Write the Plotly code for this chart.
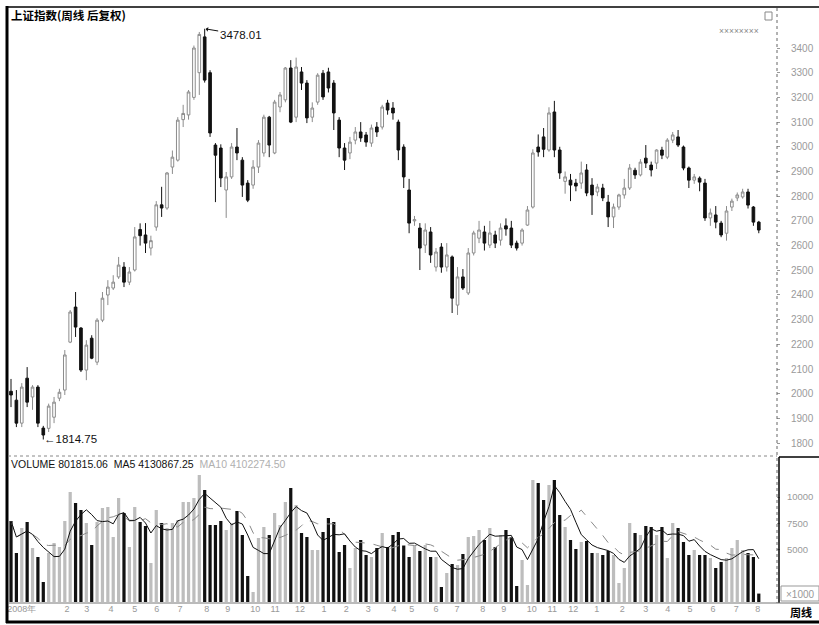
import plotly.graph_objects as go
import pandas as pd

# ---------------- data (weekly, 上证指数 后复权) ----------------
open_ = [2010,1974,1881,2063,1987,2027,1861,1860,1905,1982,
         2015,2209,2351,2266,2096,2225,2128,2298,2400,2428,
         2473,2513,2452,2501,2665,2643,2590,2675,2765,2752,
         2918,2946,3110,3129,3200,3300,3445,3300,3007,2995,
         2825,2878,2999,2946,2853,2845,2918,2975,3120,2975,
         3161,3190,3319,3120,3303,3258,3120,3181,3298,3303,
         3258,3108,2995,2975,3027,3060,3048,3015,3080,3080,
         3177,3157,3100,2999,2825,2700,2671,2602,2655,2513,
         2594,2513,2554,2359,2473,2408,2570,2630,2655,2602,
         2643,2622,2680,2671,2610,2610,2683,2756,2999,3040,
         2987,3141,2987,2860,2865,2853,2853,2906,2845,2817,
         2833,2776,2716,2756,2805,2833,2905,2886,2954,2926,
         2934,2987,2958,3027,3040,2999,2914,2865,2873,2853,
         2712,2724,2691,2650,2756,2793,2797,2817,2756,2695]
high = [2060,2015,2043,2108,2035,2035,1870,1960,1987,2020,
        2177,2339,2412,2270,2217,2237,2306,2412,2460,2480,
        2554,2533,2513,2675,2690,2691,2640,2780,2838,2898,
        2985,3120,3170,3230,3410,3465,3478.01,3310,3015,3010,
        2898,3015,3076,2958,2865,2946,3027,3130,3125,3190,
        3222,3323,3351,3361,3323,3270,3180,3298,3311,3320,
        3270,3120,3015,3040,3080,3100,3060,3090,3100,3170,
        3190,3181,3110,3010,2870,2720,2691,2690,2675,2590,
        2610,2610,2560,2513,2505,2590,2660,2700,2680,2700,
        2660,2690,2710,2700,2620,2670,2760,2990,3050,3076,
        3160,3186,3000,2900,2890,2870,2940,2930,2873,2850,
        2850,2805,2770,2810,2870,2930,2915,2950,3007,2940,
        2990,3000,3035,3060,3068,3005,2920,2890,2880,2870,
        2750,2760,2700,2760,2790,2815,2830,2830,2760,2700]
low = [1946,1865,1865,1946,1935,1865,1814.75,1845,1881,1970,
       1995,2205,2230,2088,2055,2140,2116,2290,2359,2420,
       2465,2432,2440,2495,2600,2570,2560,2660,2716,2745,
       2890,2940,3080,3110,3190,3210,3260,3040,2776,2837,
       2712,2870,2946,2797,2776,2830,2894,2960,2958,2970,
       3140,3180,3096,3100,3230,3096,3100,3170,3190,3220,
       3068,2958,2906,2950,3010,3020,3000,3000,3040,3070,
       3130,3110,2946,2833,2650,2680,2501,2570,2530,2495,
       2490,2495,2327,2319,2420,2400,2560,2610,2580,2590,
       2590,2600,2640,2590,2580,2600,2680,2750,2960,2958,
       2980,2958,2870,2810,2780,2820,2830,2800,2724,2800,
       2780,2675,2671,2745,2790,2825,2870,2880,2914,2880,
       2910,2950,2950,3015,2999,2905,2833,2850,2820,2700,
       2680,2670,2634,2620,2740,2780,2790,2750,2680,2650]
close = [1995,1881,2027,1966,2027,1881,1833,1950,1966,2006,
         2157,2331,2270,2096,2197,2144,2298,2387,2432,2452,
         2521,2452,2493,2635,2640,2610,2620,2765,2752,2894,
         2958,3108,3135,3222,3400,3455,3270,3056,2966,2874,
         2878,2999,2975,2845,2784,2918,3015,3120,3007,3181,
         3210,3319,3100,3323,3258,3117,3157,3290,3202,3238,
         3137,2995,2946,3019,3060,3036,3019,3076,3060,3161,
         3149,3137,2987,2878,2691,2705,2590,2663,2562,2574,
         2513,2562,2387,2473,2428,2570,2651,2663,2610,2651,
         2610,2671,2667,2602,2590,2663,2744,2975,2979,2990,
         3137,2987,2894,2878,2845,2841,2894,2813,2805,2837,
         2793,2716,2756,2805,2833,2914,2886,2938,2934,2906,
         2987,2966,3027,3048,3007,2914,2865,2878,2857,2712,
         2732,2695,2643,2740,2780,2805,2817,2764,2695,2663]
volume = [7714,4667,7048,7619,5143,4286,1905,4667,5619,5238,
          7714,10476,9429,8762,7524,5429,7619,8952,9048,6190,
          9905,8476,5238,9048,7619,7238,3714,8762,7524,7048,
          7524,7810,9524,9524,9905,12095,10667,7333,7333,7714,
          6857,7524,8667,6381,2476,952,6095,7143,6381,8476,
          7333,9524,10857,9238,6571,6190,4952,4952,6667,8000,
          7619,4762,5429,3238,5143,5905,4476,4286,5143,6571,
          5238,6381,6667,5380,4286,5333,4857,5429,4286,4286,
          1429,2762,3619,3524,4571,6190,6286,6857,5905,7048,
          5238,6381,6857,6190,1524,4000,1619,11619,11333,9714,
          11143,11619,8286,7143,5905,5048,5714,5810,4667,4667,
          4476,4857,4476,1810,3238,7524,6571,6381,7238,7143,
          6381,7143,4190,7524,7048,5714,4476,4952,4476,4476,
          4190,3238,3810,4190,5143,5905,4952,4667,4286,802]   # x1000

month_labels = ["2008年","2","3","4","5","6","7","8","9","10","11","12",
                "1","2","3","4","5","6","7","8","9","10","11","12",
                "1","2","3","4","5","6","7","8"]
month_week = [2.0,10.4,14.1,18.6,23.0,27.1,31.4,36.4,40.3,45.4,49.1,53.7,
              58.2,62.3,66.4,71.2,74.5,79.0,82.9,87.7,91.6,96.8,100.6,104.5,
              108.9,113.6,118.0,122.1,126.2,130.5,134.8,138.8]
price_ticks = list(range(1800, 3401, 100))
vol_ticks = [5000, 7500, 10000]
vol_tick_text = ["5000", "7500", "10000"]

# ---------------- derived ----------------
weeks = list(range(len(close)))
vs = pd.Series(volume, dtype=float)
ma5 = vs.rolling(5, min_periods=1).mean()
ma10 = vs.rolling(10, min_periods=1).mean()
vol_colors = ["#111111" if c < o else "#bdbdbd" for o, c in zip(open_, close)]

W, H = 819, 625
def fx(p): return p / W
def fy(p): return 1 - p / H

FONT = "Liberation Sans, Arial, sans-serif"
CJK = "Noto Sans CJK SC, sans-serif"

fig = go.Figure()
fig.add_trace(go.Candlestick(
    x=weeks, open=open_, high=high, low=low, close=close,
    increasing=dict(line=dict(color="#8c8c8c", width=1), fillcolor="#ffffff"),
    decreasing=dict(line=dict(color="#111111", width=1), fillcolor="#111111"),
    whiskerwidth=0, xaxis="x", yaxis="y", showlegend=False, hoverinfo="skip"))
fig.add_trace(go.Bar(x=weeks, y=volume, marker=dict(color=vol_colors, line=dict(width=0)),
                     width=0.6, xaxis="x2", yaxis="y2", showlegend=False))
fig.add_trace(go.Scatter(x=weeks, y=ma10, mode="lines", line=dict(color="#8a8a8a", width=1, dash="dash"),
                         xaxis="x2", yaxis="y2", showlegend=False))
fig.add_trace(go.Scatter(x=weeks, y=ma5, mode="lines", line=dict(color="#111111", width=1),
                         xaxis="x2", yaxis="y2", showlegend=False))

xr = [-0.56, 142.2]
fig.update_layout(
    width=W, height=H, margin=dict(l=0, r=0, t=0, b=0),
    paper_bgcolor="white", plot_bgcolor="white",
    font=dict(family=FONT, size=10, color="#222"),
    xaxis=dict(domain=[fx(8), fx(776)], range=xr, showticklabels=False, showgrid=False,
               zeroline=False, rangeslider=dict(visible=False), anchor="y"),
    yaxis=dict(domain=[fy(455), fy(8)], range=[1752, 3562], side="right", tickvals=price_ticks,
               showgrid=False, zeroline=False, ticks="outside", ticklen=3, tickcolor="#999",
               ticklabelstandoff=9, tickfont=dict(size=10, color="#9a9a9a", family=FONT), anchor="x"),
    xaxis2=dict(domain=[fx(8), fx(776)], range=xr, tickvals=month_week, ticktext=month_labels,
                showgrid=False, zeroline=False, ticks="", tickfont=dict(size=9, color="#9a9a9a"),
                anchor="y2"),
    yaxis2=dict(domain=[fy(602), fy(458)], range=[0, 13714], side="right", tickvals=vol_ticks,
                ticktext=vol_tick_text, showgrid=False, zeroline=False, ticks="outside", ticklen=3,
                tickcolor="#999", ticklabelstandoff=5,
                tickfont=dict(size=9.5, color="#9a9a9a"), anchor="x2"),
    bargap=0.4,
)

shapes = []
def line(x0, y0, x1, y1, color="#000", width=1, dash="solid"):
    shapes.append(dict(type="line", xref="paper", yref="paper", x0=fx(x0), y0=fy(y0),
                       x1=fx(x1), y1=fy(y1), line=dict(color=color, width=width, dash=dash)))
line(7, 6, 7, 623, width=3)
line(6, 7, 819, 7, width=1.5)
line(6, 622, 819, 622, width=3)
line(8, 456, 777, 456, color="#888", width=1, dash="dot")
line(777, 8, 777, 603, color="#666", width=1, dash="dot")
line(779, 457, 819, 457, width=1.5)
line(779, 457, 779, 603, width=1.5)
line(8, 603, 819, 603, color="#777", width=1)
shapes.append(dict(type="rect", xref="paper", yref="paper", x0=fx(781), y0=fy(601), x1=fx(819),
                   y1=fy(586), line=dict(color="#999", width=1)))
shapes.append(dict(type="rect", xref="paper", yref="paper", x0=fx(765), y0=fy(20), x1=fx(772),
                   y1=fy(12), line=dict(color="#888", width=1)))

ann = []
ann.append(dict(xref="paper", yref="paper", x=fx(9), y=fy(15), xanchor="left", yanchor="middle",
                text="<b>上证指数(周线 后复权)</b>", showarrow=False,
                font=dict(family=CJK, size=11.5, color="#000")))
ann.append(dict(xref="paper", yref="paper", x=fx(9), y=fy(464), xanchor="left", yanchor="middle",
                text="VOLUME 801815.06  MA5 4130867.25  <span style='color:#b0b0b0'>MA10 4102274.50</span>",
                showarrow=False, font=dict(family=FONT, size=10.5, color="#111")))
ann.append(dict(x=36, y=3478.01, xref="x", yref="y", text="3478.01", showarrow=True,
                ax=36, ay=6, arrowhead=1, arrowsize=0.8, arrowwidth=1, arrowcolor="#111", standoff=1,
                font=dict(family=FONT, size=11.5, color="#111")))
ann.append(dict(x=6, y=1814.75, xref="x", yref="y", text="←1814.75", showarrow=False,
                xanchor="left", yanchor="middle", xshift=-1, yshift=1,
                font=dict(family=FONT, size=11.5, color="#111")))
ann.append(dict(xref="paper", yref="paper", x=fx(739), y=fy(31), xanchor="center", yanchor="middle",
                text="××××××××", showarrow=False, font=dict(size=8.5, color="#888")))
ann.append(dict(xref="paper", yref="paper", x=fx(800), y=fy(594), xanchor="center", yanchor="middle",
                text="×1000", showarrow=False, font=dict(size=10, color="#999")))
ann.append(dict(xref="paper", yref="paper", x=fx(801), y=fy(612), xanchor="center", yanchor="middle",
                text="<b>周线</b>", showarrow=False, font=dict(family=CJK, size=11, color="#000")))

fig.update_layout(shapes=shapes, annotations=ann)
fig.write_html("out.html", config={"displayModeBar": False},
               post_script="document.body.style.margin='0px';document.body.style.padding='0px';"
                           "document.body.style.overflow='hidden';")
